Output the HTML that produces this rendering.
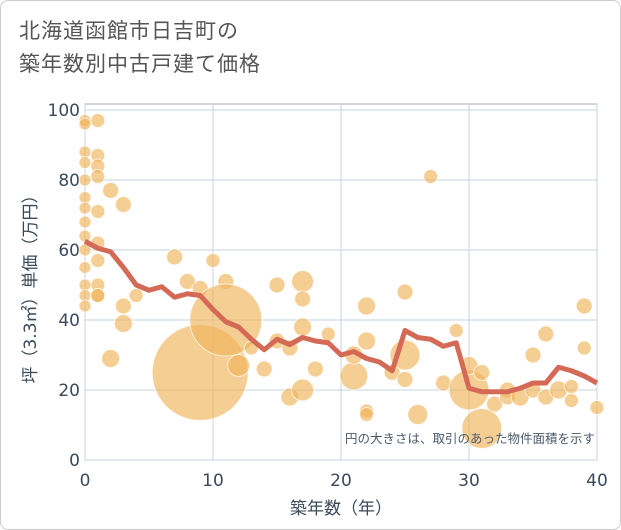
<!DOCTYPE html>
<html><head><meta charset="utf-8"><style>
body{margin:0;background:#fff;font-family:"DejaVu Sans","Noto Sans CJK JP",sans-serif}
#wrap{position:relative;width:619px;height:528px;border:1px solid #ccc;border-radius:8px;overflow:hidden}
#title{position:absolute;left:18px;top:14px;font-size:21px;line-height:33px;color:#555;letter-spacing:1px}
</style></head><body>
<div id="wrap">
<div id="title">北海道函館市日吉町の<br>築年数別中古戸建て価格</div>
<svg id="c" width="621" height="530" style="position:absolute;left:-1px;top:-1px"></svg>
</div>
<script>
const xTicks=[0,10,20,30,40];
const yTicks=[0,20,40,60,80,100];
const lineAges=[0,1,2,3,4,5,6,7,8,9,10,11,12,13,14,15,16,17,18,19,20,21,22,23,24,25,26,27,28,29,30,31,32,33,34,35,36,37,38,39,40];
const linePrices=[62.5,60.5,59.5,55,50,48.5,49.5,46.5,47.5,47,43,39.5,38,34.5,31.5,34.5,33,35,34,33.5,30,31,29,28,25.5,37,35,34.5,32.5,33.5,20.5,19.5,19.5,19.5,20.5,22,22,26.5,25.5,24,22];
const bubbleAges=[0,0,0,0,0,0,0,0,0,0,0,0,0,0,1,1,1,1,1,1,1,1,1,1,2,2,3,3,3,4,7,8,9,9,10,11,11,12,13,14,15,15,16,16,17,17,17,17,18,19,21,21,22,22,22,22,24,25,25,25,26,27,28,29,30,30,31,31,32,33,33,34,35,35,36,36,37,38,38,39,39,40];
const bubblePrices=[97,96,88,85,80,75,72,68,64,60,55,50,47,44,97,87,84,81,71,62,57,50,47,47,77,29,73,44,39,47,58,51,49,25,57,51,40,27,32,26,50,34,32,18,51,46,38,20,26,36,24,30,44,34,14,13,25,48,30,23,13,81,22,37,20,27,9,25,16,20,18,18,30,20,36,18,20,21,17,44,32,15];
const bubbleSizes=[6,6,6,6,6,6,6,6,6,6,6,6,6,6,7,7,7,7,7,7,7,7,7,7,8,9,8,8,9,7,8,8,8,48,7,8,36,11,7,8,8,8,8,9,11,8,9,11,8,7,14,9,9,9,7,7,8,8,15,8,10,7,8,7,20,9,20,8,8,8,8,9,8,8,8,8,9,7,7,8,7,7];
const svg=document.getElementById('c'),NS='http://www.w3.org/2000/svg';
const X0=85,X1=597,Y0=460,Y1=110;
const xs=v=>X0+(X1-X0)*v/40, ys=v=>Y0-(Y0-Y1)*v/100;
function mk(t,a,p){const e=document.createElementNS(NS,t);for(const k in a)e.setAttribute(k,a[k]);(p||svg).appendChild(e);return e;}
const bg=mk('rect',{x:X0,y:104,width:X1-X0,height:Y0-104,fill:'#fff',stroke:'#aaa'});


xTicks.forEach(t=>{const l=mk('line',{x1:xs(t),x2:xs(t),y1:104,y2:Y0,stroke:'#c5d3e0'});


const tx=mk('text',{x:xs(t),y:486,'text-anchor':'middle','font-size':17,fill:'#3a4a5a'});tx.textContent=t;

});
yTicks.forEach(t=>{const l=mk('line',{x1:X0,x2:X1,y1:ys(t),y2:ys(t),stroke:'#c5d3e0'});


const tx=mk('text',{x:X0-5,y:ys(t)+6,'text-anchor':'end','font-size':17,fill:'#3a4a5a'});tx.textContent=t;

});
bubbleAges.forEach((a,i)=>{const c=mk('circle',{cx:xs(a),cy:ys(bubblePrices[i]),r:bubbleSizes[i],fill:'rgba(240,180,90,0.65)',stroke:'rgba(255,255,255,0.7)','stroke-width':1});

});
const p=mk('polyline',{points:lineAges.map((a,i)=>xs(a)+','+ys(linePrices[i])).join(' '),fill:'none',stroke:'#d46a55','stroke-width':5,'stroke-linejoin':'round'});


const n=mk('text',{x:595,y:443,'text-anchor':'end','font-size':12.5,fill:'#4a5a6a'});n.textContent='円の大きさは、取引のあった物件面積を示す';


const xt=mk('text',{x:341,y:514,'text-anchor':'middle','font-size':17,fill:'#3a4a5a'});xt.textContent='築年数（年）';


const yt=mk('text',{x:0,y:0,'text-anchor':'middle','font-size':17,fill:'#3a4a5a',transform:'translate(36,285) rotate(-90)'});yt.textContent='坪（3.3㎡）単価（万円）';


</script></body></html>
